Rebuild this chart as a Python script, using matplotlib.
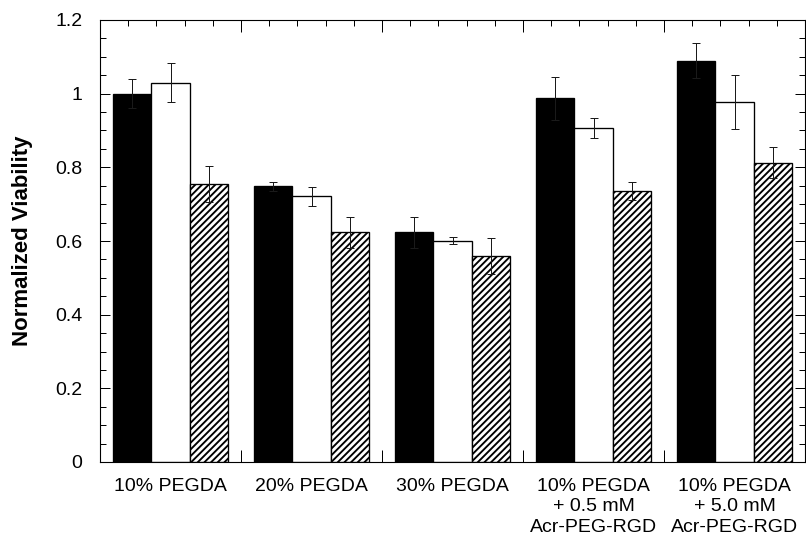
import matplotlib
matplotlib.use("Agg")
import matplotlib.pyplot as plt
import numpy as np
from matplotlib.ticker import MultipleLocator

categories = ["10% PEGDA", "20% PEGDA", "30% PEGDA",
              "10% PEGDA\n+ 0.5 mM\nAcr-PEG-RGD",
              "10% PEGDA\n+ 5.0 mM\nAcr-PEG-RGD"]
black_vals = [1.00, 0.748, 0.624, 0.987, 1.090]
black_err = [0.040, 0.011, 0.042, 0.058, 0.048]
white_vals = [1.030, 0.721, 0.601, 0.907, 0.977]
white_err = [0.053, 0.025, 0.010, 0.028, 0.074]
hatch_vals = [0.755, 0.624, 0.559, 0.735, 0.813]
hatch_err = [0.048, 0.042, 0.048, 0.025, 0.042]
y_ticks = [0, 0.2, 0.4, 0.6, 0.8, 1.0, 1.2]
y_ticklabels = ["0", "0.2", "0.4", "0.6", "0.8", "1", "1.2"]

DPI = 80
plt.rcParams["font.family"] = ["Liberation Sans", "DejaVu Sans"]
plt.rcParams["hatch.linewidth"] = 1.7

fig = plt.figure(figsize=(806 / DPI, 537 / DPI), dpi=DPI)
ax = fig.add_axes([100 / 806, 75 / 537, 705 / 806, 442 / 537])

centers = np.arange(len(categories)) + 0.5
w = 0.27
ekw = dict(fmt="none", ecolor="#1a1a1a", elinewidth=0.9, capsize=3.2, capthick=0.9, zorder=4)

ax.bar(centers - w, black_vals, w, color="black", edgecolor="black", linewidth=1.2, zorder=2)
ax.errorbar(centers - w, black_vals, yerr=black_err, **ekw)
ax.bar(centers, white_vals, w, color="white", edgecolor="black", linewidth=1.2, zorder=2)
ax.errorbar(centers, white_vals, yerr=white_err, **ekw)
ax.bar(centers + w, hatch_vals, w, color="white", edgecolor="black", hatch="////", linewidth=1.2, zorder=2)
ax.errorbar(centers + w, hatch_vals, yerr=hatch_err, **ekw)

ax.set_xlim(0, 5)
ax.set_ylim(0, 1.2)

ax.set_yticks(y_ticks)
ax.set_yticklabels(y_ticklabels)
ax.yaxis.set_minor_locator(MultipleLocator(0.05))
ax.set_xticks(np.arange(0, 6))
ax.set_xticklabels([])
ax.xaxis.set_minor_locator(MultipleLocator(0.2))

ax.tick_params(which="both", direction="in", top=True, right=True, width=0.9)
ax.tick_params(axis="y", which="major", length=9, labelsize=17.5, pad=16)
ax.tick_params(axis="y", which="minor", length=5.4)
ax.tick_params(axis="x", which="major", length=10.8)
ax.tick_params(axis="x", which="minor", length=5.4)

for s in ax.spines.values():
    s.set_linewidth(1.0)

sec = ax.secondary_xaxis("bottom")
sec.set_xticks(centers)
sec.set_xticklabels(categories, fontsize=17.5, linespacing=1.3)
sec.tick_params(length=0, pad=14)
sec.spines["bottom"].set_visible(False)

ax.set_ylabel("Normalized Viability", fontsize=20, fontweight="bold")
ax.yaxis.set_label_coords(-0.095, 0.5)

fig.savefig("out.png", dpi=DPI)
